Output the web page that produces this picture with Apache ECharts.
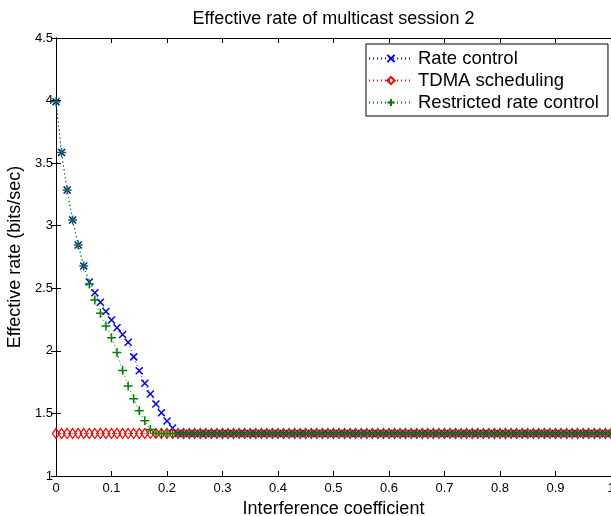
<!DOCTYPE html>
<html>
<head>
<meta charset="utf-8">
<script src="https://cdn.jsdelivr.net/npm/echarts@6/dist/echarts.min.js"></script>
<style>html,body{margin:0;padding:0;background:#fff;}#c{width:611px;height:516px;}</style>
</head>
<body>
<div id="c"></div>
<script>
var chartTitle = 'Effective rate of multicast session 2';
var xName = 'Interference coefficient';
var yName = 'Effective rate (bits/sec)';
var seriesNames = ['Rate control', 'TDMA scheduling', 'Restricted rate control'];

var xValues = [
  0.00, 0.01, 0.02, 0.03, 0.04, 0.05, 0.06, 0.07, 0.08, 0.09,
  0.10, 0.11, 0.12, 0.13, 0.14, 0.15, 0.16, 0.17, 0.18, 0.19,
  0.20, 0.21, 0.22, 0.23, 0.24, 0.25, 0.26, 0.27, 0.28, 0.29,
  0.30, 0.31, 0.32, 0.33, 0.34, 0.35, 0.36, 0.37, 0.38, 0.39,
  0.40, 0.41, 0.42, 0.43, 0.44, 0.45, 0.46, 0.47, 0.48, 0.49,
  0.50, 0.51, 0.52, 0.53, 0.54, 0.55, 0.56, 0.57, 0.58, 0.59,
  0.60, 0.61, 0.62, 0.63, 0.64, 0.65, 0.66, 0.67, 0.68, 0.69,
  0.70, 0.71, 0.72, 0.73, 0.74, 0.75, 0.76, 0.77, 0.78, 0.79,
  0.80, 0.81, 0.82, 0.83, 0.84, 0.85, 0.86, 0.87, 0.88, 0.89,
  0.90, 0.91, 0.92, 0.93, 0.94, 0.95, 0.96, 0.97, 0.98, 0.99,
  1.00
];

var rateControl = [
  3.99, 3.585, 3.285, 3.045, 2.846, 2.678, 2.55, 2.465, 2.388, 2.315,
  2.246, 2.185, 2.13, 2.069, 1.952, 1.841, 1.741, 1.655, 1.575, 1.505,
  1.44, 1.384, 1.34, 1.34, 1.34, 1.34, 1.34, 1.34, 1.34, 1.34,
  1.34, 1.34, 1.34, 1.34, 1.34, 1.34, 1.34, 1.34, 1.34, 1.34,
  1.34, 1.34, 1.34, 1.34, 1.34, 1.34, 1.34, 1.34, 1.34, 1.34,
  1.34, 1.34, 1.34, 1.34, 1.34, 1.34, 1.34, 1.34, 1.34, 1.34,
  1.34, 1.34, 1.34, 1.34, 1.34, 1.34, 1.34, 1.34, 1.34, 1.34,
  1.34, 1.34, 1.34, 1.34, 1.34, 1.34, 1.34, 1.34, 1.34, 1.34,
  1.34, 1.34, 1.34, 1.34, 1.34, 1.34, 1.34, 1.34, 1.34, 1.34,
  1.34, 1.34, 1.34, 1.34, 1.34, 1.34, 1.34, 1.34, 1.34, 1.34,
  1.34
];

var tdmaScheduling = [
  1.34, 1.34, 1.34, 1.34, 1.34, 1.34, 1.34, 1.34, 1.34, 1.34,
  1.34, 1.34, 1.34, 1.34, 1.34, 1.34, 1.34, 1.34, 1.34, 1.34,
  1.34, 1.34, 1.34, 1.34, 1.34, 1.34, 1.34, 1.34, 1.34, 1.34,
  1.34, 1.34, 1.34, 1.34, 1.34, 1.34, 1.34, 1.34, 1.34, 1.34,
  1.34, 1.34, 1.34, 1.34, 1.34, 1.34, 1.34, 1.34, 1.34, 1.34,
  1.34, 1.34, 1.34, 1.34, 1.34, 1.34, 1.34, 1.34, 1.34, 1.34,
  1.34, 1.34, 1.34, 1.34, 1.34, 1.34, 1.34, 1.34, 1.34, 1.34,
  1.34, 1.34, 1.34, 1.34, 1.34, 1.34, 1.34, 1.34, 1.34, 1.34,
  1.34, 1.34, 1.34, 1.34, 1.34, 1.34, 1.34, 1.34, 1.34, 1.34,
  1.34, 1.34, 1.34, 1.34, 1.34, 1.34, 1.34, 1.34, 1.34, 1.34,
  1.34
];

var restrictedRateControl = [
  3.99, 3.585, 3.285, 3.045, 2.846, 2.678, 2.535, 2.406, 2.30, 2.198,
  2.104, 1.987, 1.843, 1.72, 1.618, 1.521, 1.441, 1.372, 1.34, 1.34,
  1.34, 1.34, 1.34, 1.34, 1.34, 1.34, 1.34, 1.34, 1.34, 1.34,
  1.34, 1.34, 1.34, 1.34, 1.34, 1.34, 1.34, 1.34, 1.34, 1.34,
  1.34, 1.34, 1.34, 1.34, 1.34, 1.34, 1.34, 1.34, 1.34, 1.34,
  1.34, 1.34, 1.34, 1.34, 1.34, 1.34, 1.34, 1.34, 1.34, 1.34,
  1.34, 1.34, 1.34, 1.34, 1.34, 1.34, 1.34, 1.34, 1.34, 1.34,
  1.34, 1.34, 1.34, 1.34, 1.34, 1.34, 1.34, 1.34, 1.34, 1.34,
  1.34, 1.34, 1.34, 1.34, 1.34, 1.34, 1.34, 1.34, 1.34, 1.34,
  1.34, 1.34, 1.34, 1.34, 1.34, 1.34, 1.34, 1.34, 1.34, 1.34,
  1.34
];

var FONT = '"Liberation Sans", Arial, Helvetica, sans-serif';

function pairs(ys) {
  return xValues.map(function (x, i) { return [x, ys[i]]; });
}

var chart = echarts.init(document.getElementById('c'), null, {renderer: 'canvas'});

var axisCommon = {
  axisLine: {show: true, lineStyle: {color: '#000', width: 1}},
  axisTick: {show: true, inside: true, length: 5, lineStyle: {color: '#000'}},
  splitLine: {show: false}
};

function mkX(pos, showLabels, name, gap) {
  return Object.assign({}, axisCommon, {
    type: 'value', position: pos, min: 0, max: 1, interval: 0.1,
    name: name, nameLocation: 'middle', nameGap: gap,
    nameTextStyle: {fontFamily: FONT, fontSize: 18, color: '#000'},
    axisLabel: {show: showLabels, fontFamily: FONT, fontSize: 13, color: '#000', margin: 6,
      hideOverlap: false, showMinLabel: true, showMaxLabel: true,
      formatter: function (v) { return String(Math.round(v * 10) / 10); }}
  });
}
function mkY(pos, showLabels, name, gap) {
  return Object.assign({}, axisCommon, {
    type: 'value', position: pos, min: 1, max: 4.5, interval: 0.5,
    name: name, nameLocation: 'middle', nameGap: gap,
    nameTextStyle: {fontFamily: FONT, fontSize: 18, color: '#000'},
    axisLabel: {show: showLabels, fontFamily: FONT, fontSize: 13, color: '#000', margin: 3,
      hideOverlap: false, showMinLabel: true, showMaxLabel: true,
      formatter: function (v) { return String(Math.round(v * 10) / 10); }}
  });
}

var option = {
  animation: false,
  backgroundColor: '#fff',
  grid: {left: 56, right: 0, top: 38, bottom: 40, containLabel: false, outerBoundsMode: 'none'},
  xAxis: [
    mkX('bottom', true, xName, 20),
    mkX('top', false, chartTitle, 10)
  ],
  yAxis: [
    mkY('left', true, yName, 27),
    mkY('right', false, '', 0)
  ],
  legend: {
    orient: 'vertical', left: 366, top: 44,
    padding: [5, 9, 4, 2],
    itemWidth: 44, itemHeight: 9, itemGap: 3,
    backgroundColor: '#fff', borderColor: '#000', borderWidth: 1, borderRadius: 0,
    textStyle: {fontFamily: FONT, fontSize: 18.5, color: '#000'},
    data: seriesNames
  },
  series: [
    {
      name: seriesNames[0], type: 'line', data: pairs(rateControl),
      showAllSymbol: true,
      symbol: 'path://M0,0L10,10M10,0L0,10', symbolSize: 7,
      lineStyle: {color: '#0000ff', width: 1, type: [1, 3]},
      itemStyle: {color: '#0000ff', borderColor: '#0000ff', borderWidth: 1.5},
      z: 2
    },
    {
      name: seriesNames[1], type: 'line', data: pairs(tdmaScheduling),
      showAllSymbol: true,
      symbol: 'diamond', symbolSize: [7, 10],
      lineStyle: {color: '#ff0000', width: 1, type: [1, 3]},
      itemStyle: {color: 'rgba(255,255,255,0)', borderColor: '#ff0000', borderWidth: 1.3},
      z: 3
    },
    {
      name: seriesNames[2], type: 'line', data: pairs(restrictedRateControl),
      showAllSymbol: true,
      symbol: 'path://M5,0L5,10M0,5L10,5', symbolSize: 9,
      lineStyle: {color: '#008000', width: 1, type: [1, 3]},
      itemStyle: {color: '#008000', borderColor: '#008000', borderWidth: 1.5},
      z: 4
    }
  ]
};
chart.setOption(option);
</script>
</body>
</html>
